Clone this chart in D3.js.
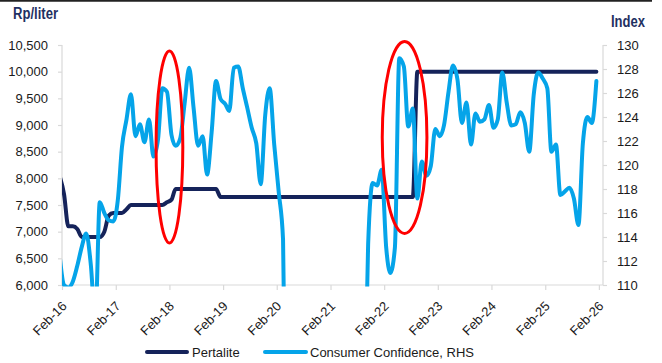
<!DOCTYPE html>
<html>
<head>
<meta charset="utf-8">
<script src="https://cdn.jsdelivr.net/npm/d3@7"></script>
<style>
  html, body { margin: 0; padding: 0; background: #fff; }
  svg { display: block; }
  text { font-family: "Liberation Sans", Arial, sans-serif; }
</style>
</head>
<body>
<svg id="chart" width="662" height="363"></svg>
<script>
// ---------- DATA (monthly, Jan 2016 .. Jan 2026) ----------
const startMonth = "2016-01";
const pertalite = [
  8050, 7700, 7100, 7100, 7050, 6900, 6900, 6900, 6900, 6900, 7000, 7300,   // 2016
  7350, 7350, 7350, 7420, 7500, 7500, 7500, 7500, 7500, 7500, 7500, 7500,   // 2017
  7550, 7600, 7800, 7800, 7800, 7800, 7800, 7800, 7800, 7800, 7800, 7800,   // 2018
  7650, 7650, 7650, 7650, 7650, 7650, 7650, 7650, 7650, 7650, 7650, 7650,   // 2019
  7650, 7650, 7650, 7650, 7650, 7650, 7650, 7650, 7650, 7650, 7650, 7650,   // 2020
  7650, 7650, 7650, 7650, 7650, 7650, 7650, 7650, 7650, 7650, 7650, 7650,   // 2021
  7650, 7650, 7650, 7650, 7650, 7650, 7650, 7650, 10000, 10000, 10000, 10000, // 2022
  10000, 10000, 10000, 10000, 10000, 10000, 10000, 10000, 10000, 10000, 10000, 10000, // 2023
  10000, 10000, 10000, 10000, 10000, 10000, 10000, 10000, 10000, 10000, 10000, 10000, // 2024
  10000, 10000, 10000, 10000, 10000, 10000, 10000, 10000, 10000, 10000, 10000, 10000, // 2025
  10000                                                                     // 2026
];
const consumerConfidence = [
  112.6, 110.0, 109.8, 110.3, 111.6, 113.2, 114.3, 111.7, 107.0, 116.9, 116.0, 115.4, // 2016
  115.3, 117.1, 121.5, 123.8, 125.9, 122.4, 123.4, 121.9, 123.8, 120.7, 122.1, 126.4, // 2017
  126.1, 122.5, 121.6, 122.2, 125.1, 128.1, 124.8, 121.6, 122.4, 119.2, 122.7, 127.0, // 2018
  125.5, 125.1, 124.5, 128.1, 128.2, 126.4, 124.8, 123.1, 121.8, 118.4, 124.2, 126.4, // 2019
  121.7, 117.7, 113.8, 84.8, 77.8, 83.8, 86.2, 86.9, 83.4, 79.0, 92.0, 96.5,         // 2020
  84.9, 85.8, 93.4, 101.5, 104.4, 107.4, 80.2, 77.3, 95.5, 113.4, 118.5, 118.3,      // 2021
  119.6, 113.1, 111.0, 113.1, 128.9, 128.2, 123.2, 124.7, 117.2, 120.3, 119.1, 119.9, // 2022
  123.0, 122.4, 123.3, 126.1, 128.3, 127.1, 123.5, 125.2, 121.7, 124.3, 123.6, 123.8, // 2023
  125.0, 123.1, 123.8, 127.7, 125.2, 123.3, 123.4, 124.4, 123.5, 121.1, 125.9, 127.7, // 2024
  127.2, 126.4, 121.1, 121.7, 117.5, 117.8, 118.1, 117.2, 115.0, 121.8, 124.0, 123.5, // 2025
  127.0                                                                               // 2026
];
const xTickLabels = ["Feb-16","Feb-17","Feb-18","Feb-19","Feb-20","Feb-21","Feb-22","Feb-23","Feb-24","Feb-25","Feb-26"];
const leftTicks = [6000, 6500, 7000, 7500, 8000, 8500, 9000, 9500, 10000, 10500];
const rightTicks = [110, 112, 114, 116, 118, 120, 122, 124, 126, 128, 130];
const seriesNames = ["Pertalite", "Consumer Confidence, RHS"];
const leftTitle = "Rp/liter";
const rightTitle = "Index";
// highlighted periods (centre month, centre index value, half-width in months, half-height in index pts)
const highlights = [
  { centre: "2018-02-01", value: 121.5, halfMonths: 3.0, halfIndex: 8.0 },
  { centre: "2022-06-20", value: 122.3, halfMonths: 5.0, halfIndex: 8.0 }
];

// ---------- LAYOUT ----------
const colors = { pertalite: "#15235a", cci: "#05a4e9", axis: "#d9d9d9", text: "#1a1a1a", title: "#1f3162", red: "#ff0000" };
const plot = { left: 62, right: 603, top: 45, bottom: 285 };

const svg = d3.select("#chart");
const parseM = d3.timeParse("%Y-%m");
const parseD = d3.timeParse("%Y-%m-%d");
const start = parseM(startMonth);
const dateAt = i => d3.timeDay.offset(d3.timeMonth.offset(start, i), 14);

const x = d3.scaleTime()
  .domain([new Date(2016, 1, 1), new Date(2026, 2, 1)])
  .range([plot.left, plot.right]);
const yL = d3.scaleLinear().domain([6000, 10500]).range([plot.bottom, plot.top]);
const yR = d3.scaleLinear().domain([110, 130]).range([plot.bottom, plot.top]);

// top border
svg.append("line").attr("x1", 0).attr("x2", 652).attr("y1", 0.75).attr("y2", 0.75)
  .attr("stroke", "#222").attr("stroke-width", 1.8);

// titles
svg.append("text").attr("x", 13).attr("y", 19).text(leftTitle)
  .attr("font-family", "'Liberation Sans Narrow','Arial Narrow','Liberation Sans',Arial,sans-serif")
  .attr("font-weight", "bold").attr("font-size", 16).attr("fill", colors.title)
  .attr("textLength", 45).attr("lengthAdjust", "spacingAndGlyphs");
svg.append("text").attr("x", 611).attr("y", 27).text(rightTitle)
  .attr("font-family", "'Liberation Sans Narrow','Arial Narrow','Liberation Sans',Arial,sans-serif")
  .attr("font-weight", "bold").attr("font-size", 16).attr("fill", colors.title)
  .attr("textLength", 34).attr("lengthAdjust", "spacingAndGlyphs");

// axes
const fmt = d3.format(",");
const gL = svg.append("g").attr("transform", `translate(${plot.left},0)`)
  .call(d3.axisLeft(yL).tickValues(leftTicks).tickFormat(fmt).tickSize(4).tickPadding(10));
const gR = svg.append("g").attr("transform", `translate(${plot.right},0)`)
  .call(d3.axisRight(yR).tickValues(rightTicks).tickSize(4).tickPadding(10));
const xTickDates = xTickLabels.map(s => d3.timeParse("%b-%y")(s));
const gX = svg.append("g").attr("transform", `translate(0,${plot.bottom})`)
  .call(d3.axisBottom(x).tickValues(xTickDates).tickFormat((d, i) => xTickLabels[i]).tickSize(5).tickSizeOuter(0));
[gL, gR, gX].forEach(g => {
  g.selectAll("path.domain").attr("stroke", colors.axis).attr("stroke-width", 1.2);
  g.selectAll(".tick line").attr("stroke", colors.axis).attr("stroke-width", 1.2);
  g.selectAll(".tick text").attr("font-size", 13).attr("fill", colors.text)
    .attr("font-family", "'Liberation Sans', Arial, sans-serif");
});
gL.select("path.domain").attr("d", `M0,${plot.top}V${plot.bottom}`);
gR.select("path.domain").attr("d", `M0,${plot.top}V${plot.bottom}`);
gX.select("path.domain").attr("d", `M${plot.left},0H${plot.right}`);
gX.selectAll(".tick text")
  .attr("text-anchor", "end")
  .attr("dy", 0).attr("y", 0)
  .attr("transform", "translate(5,22) rotate(-45)");

// clip
svg.append("clipPath").attr("id", "plotclip").append("rect")
  .attr("x", plot.left).attr("y", plot.top - 10)
  .attr("width", plot.right - plot.left).attr("height", plot.bottom - plot.top + 11.5);

const lines = svg.append("g").attr("clip-path", "url(#plotclip)");
const lineP = d3.line().x((d, i) => x(dateAt(i))).y(d => yL(d)).curve(d3.curveMonotoneX);
const lineC = d3.line().x((d, i) => x(dateAt(i))).y(d => yR(d)).curve(d3.curveMonotoneX);

lines.append("path").datum(pertalite).attr("d", lineP)
  .attr("fill", "none").attr("stroke", colors.pertalite).attr("stroke-width", 4)
  .attr("stroke-linejoin", "round").attr("stroke-linecap", "round");
lines.append("path").datum(consumerConfidence).attr("d", lineC)
  .attr("fill", "none").attr("stroke", colors.cci).attr("stroke-width", 4)
  .attr("stroke-linejoin", "round").attr("stroke-linecap", "round");

// highlight ellipses
highlights.forEach(h => {
  const c = parseD(h.centre);
  const cx = x(c);
  const rx = x(d3.timeDay.offset(c, Math.round(h.halfMonths * 30.44))) - cx;
  const cy = yR(h.value);
  const ry = yR(h.value - h.halfIndex) - cy;
  svg.append("ellipse").attr("cx", cx).attr("cy", cy).attr("rx", rx).attr("ry", ry)
    .attr("fill", "none").attr("stroke", colors.red).attr("stroke-width", 3);
});

// legend
const legend = svg.append("g");
const legItems = [
  { name: seriesNames[0], color: colors.pertalite, x1: 147, x2: 187, tx: 192 },
  { name: seriesNames[1], color: colors.cci, x1: 265, x2: 306, tx: 310 }
];
legItems.forEach(it => {
  legend.append("line").attr("x1", it.x1).attr("x2", it.x2).attr("y1", 352).attr("y2", 352)
    .attr("stroke", it.color).attr("stroke-width", 4).attr("stroke-linecap", "round");
  legend.append("text").attr("x", it.tx).attr("y", 356.5).text(it.name)
    .attr("font-size", 13).attr("fill", colors.text);
});
</script>
</body>
</html>
